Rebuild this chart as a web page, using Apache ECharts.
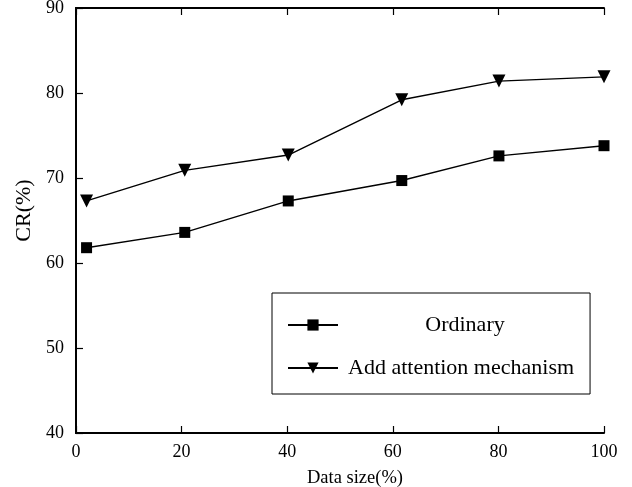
<!DOCTYPE html>
<html>
<head>
<meta charset="utf-8">
<script src="https://cdn.jsdelivr.net/npm/echarts@6/dist/echarts.min.js"></script>
<style>
  html, body { margin: 0; padding: 0; background: #fff; }
  #chart { width: 632px; height: 487px; }
</style>
</head>
<body>
<div id="chart"></div>
<script>
// data
const xValues = [2, 20.6, 40.2, 61.7, 80.1, 100];
const ordinary = [61.8, 63.6, 67.3, 69.7, 72.6, 73.8];
const attention = [67.3, 70.9, 72.7, 79.2, 81.4, 81.9];
const seriesNames = ['Ordinary', 'Add attention mechanism'];

const font = 'Liberation Serif';

function pairs(ys) {
  return xValues.map((x, i) => [x, ys[i]]);
}

const chart = echarts.init(document.getElementById('chart'));

const option = {
  animation: false,
  backgroundColor: '#fff',
  textStyle: { fontFamily: font, color: '#000' },
  grid: { left: 76, top: 8, right: 28, bottom: 54, containLabel: false, outerBoundsMode: 'none' },
  legend: {
    orient: 'vertical',
    left: 272,
    top: 293,
    padding: [21, 16, 15, 15],
    itemGap: 21,
    itemWidth: 50,
    itemHeight: 14,
    borderColor: '#000',
    borderWidth: 1,
    textStyle: { fontFamily: font, fontSize: 22, color: '#000', padding: [0, 0, 0, 5] },
    formatter: function (name) {
      if (name === 'Ordinary') return '{c|' + name + '}';
      return name;
    },
    data: seriesNames.map(n => ({
      name: n,
      textStyle: {
        rich: { c: { width: 234, align: 'center', fontFamily: font, fontSize: 22, color: '#000' } }
      }
    }))
  },
  xAxis: [{
    type: 'value',
    min: 0, max: 100, interval: 20,
    name: 'Data size(%)',
    nameLocation: 'middle',
    nameGap: 36,
    nameTextStyle: { fontFamily: font, fontSize: 18.5, color: '#000', padding: [0, 0, 0, 30] },
    axisLine: { lineStyle: { color: '#000', width: 2 } },
    axisTick: { inside: true, length: 7, lineStyle: { color: '#000', width: 1.2 } },
    axisLabel: { fontFamily: font, fontSize: 18, color: '#000', margin: 10 },
    splitLine: { show: false }
  }, {
    type: 'value',
    position: 'top',
    min: 0, max: 100, interval: 20,
    axisLine: { show: true, lineStyle: { color: '#000', width: 2 } },
    axisTick: { show: true, inside: true, length: 7, lineStyle: { color: '#000', width: 1.2 } },
    axisLabel: { show: false },
    splitLine: { show: false }
  }],
  yAxis: [{
    type: 'value',
    min: 40, max: 90, interval: 10,
    name: 'CR(%)',
    nameLocation: 'middle',
    nameGap: 41,
    nameTextStyle: { fontFamily: font, fontSize: 22, color: '#000', padding: [0, 0, 0, 20] },
    axisLine: { show: true, lineStyle: { color: '#000', width: 2 } },
    axisTick: { show: true, inside: true, length: 7, lineStyle: { color: '#000', width: 1.2 } },
    axisLabel: { fontFamily: font, fontSize: 18, color: '#000', margin: 12 },
    splitLine: { show: false }
  }, {
    type: 'value',
    position: 'right',
    min: 40, max: 90, interval: 10,
    axisLine: { show: true, lineStyle: { color: '#000', width: 2 } },
    axisTick: { show: false },
    axisLabel: { show: false },
    splitLine: { show: false }
  }],
  series: [{
    name: seriesNames[0],
    type: 'line',
    data: pairs(ordinary),
    symbol: 'rect',
    symbolSize: 11,
    lineStyle: { color: '#000', width: 1.4 },
    itemStyle: { color: '#000' }
  }, {
    name: seriesNames[1],
    type: 'line',
    data: pairs(attention),
    symbol: 'triangle',
    symbolRotate: 180,
    symbolSize: 13,
    lineStyle: { color: '#000', width: 1.4 },
    itemStyle: { color: '#000' }
  }]
};

chart.setOption(option);
</script>
</body>
</html>
